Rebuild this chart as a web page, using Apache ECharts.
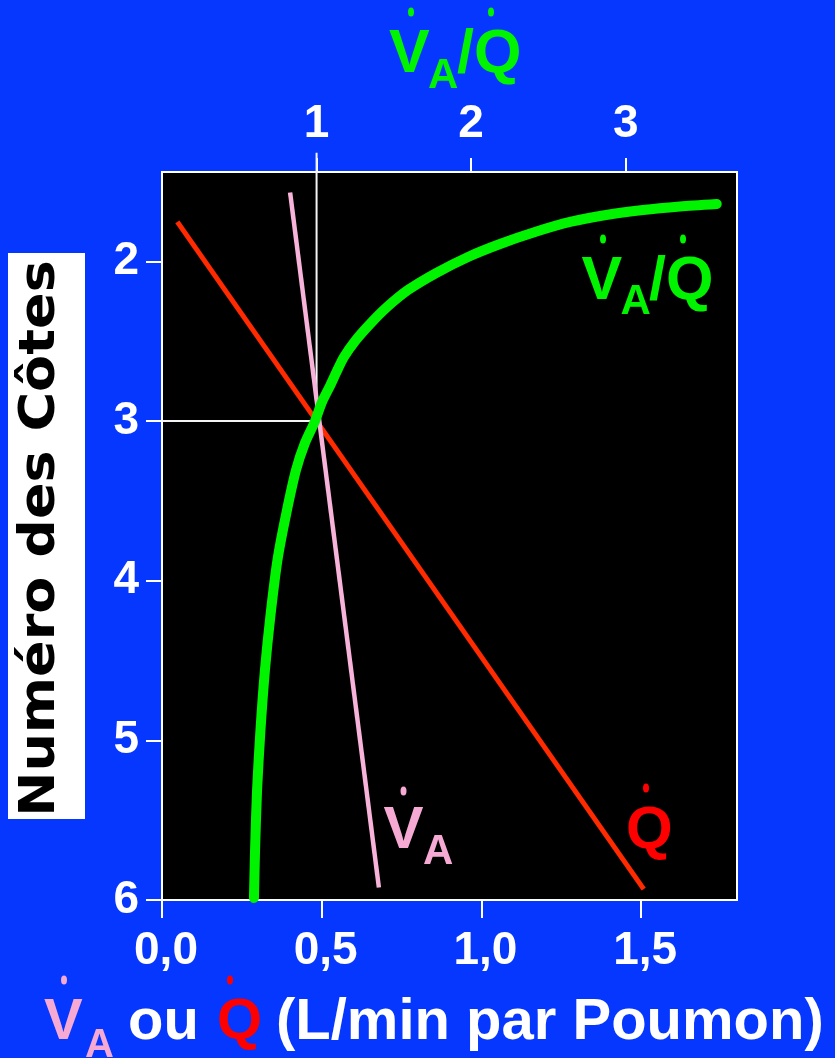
<!DOCTYPE html>
<html>
<head>
<meta charset="utf-8">
<script src="https://cdn.jsdelivr.net/npm/echarts@6/dist/echarts.min.js"></script>
<style>
  html, body { margin: 0; padding: 0; background: #0537ff; }
  #chart { width: 835px; height: 1058px; }
</style>
</head>
<body>
<div id="chart"></div>
<script>
// Flow (L/min per lung) against rib number, plus the ventilation/perfusion ratio.
const ribTicks = [2, 3, 4, 5, 6];
const flowTicks = [0, 0.5, 1, 1.5];
const ratioTicks = [1, 2, 3];

// Perfusion Q (straight line), ventilation VA (straight line): [flow, rib]
const perfusion = [[0.048, 1.752], [1.508, 5.932]];
const ventilation = [[0.401, 1.568], [0.679, 5.922]];

// VA/Q ratio curve: [ratio, rib]
const ratioCurve = [
  [0.595, 5.987], [0.602, 5.687], [0.615, 5.311], [0.637, 4.935], [0.666, 4.559],
  [0.702, 4.215], [0.747, 3.870], [0.802, 3.588], [0.867, 3.307], [0.925, 3.137],
  [0.990, 3.000], [1.035, 2.881], [1.087, 2.780], [1.132, 2.686], [1.177, 2.599],
  [1.249, 2.499], [1.346, 2.392], [1.456, 2.286], [1.592, 2.179], [1.773, 2.073],
  [1.980, 1.972], [2.187, 1.891], [2.413, 1.816], [2.640, 1.753], [2.873, 1.709],
  [3.112, 1.678], [3.351, 1.656], [3.589, 1.640]
];

// Guide lines marking a ratio of 1 at rib 3
const unityGuide = [[0, 3], [1, 3], [1, 1.32]];

const FONT = '"Liberation Sans", Arial, Helvetica, sans-serif';
const GREEN = '#00f400';
const PINK = '#f5a9d3';
const RED = '#ff0000';
const WHITE = '#ffffff';

// text placed by its left edge and baseline
function word(text, x, baseline, size, color) {
  return {
    type: 'text',
    x: x,
    y: baseline - 0.3465 * size,
    style: {
      text: text,
      fill: color,
      font: 'bold ' + size + 'px ' + FONT,
      align: 'left', verticalAlign: 'middle',
      textAlign: 'left', textVerticalAlign: 'middle'
    }
  };
}
// the small "rate" dot above V and Q
function dot(x, y, color) {
  return {
    type: 'circle',
    x: x, y: y,
    scaleY: 1.5,
    shape: { cx: 0, cy: 0, r: 3 },
    style: { fill: color }
  };
}

const graphics = [
  // title over the top axis
  word('V', 389, 76, 61, GREEN), word('A', 428, 91, 42, GREEN), word('/Q', 457, 76, 61, GREEN),
  dot(411, 12, GREEN), dot(491, 12, GREEN),
  // curve label
  word('V', 581.5, 303, 61, GREEN), word('A', 620.5, 317, 42, GREEN), word('/Q', 649, 303, 61, GREEN),
  dot(603, 239, GREEN), dot(683, 239, GREEN),
  // ventilation label
  word('V', 383.5, 852, 60, PINK), word('A', 423, 867, 42, PINK),
  dot(403.5, 791, PINK),
  // perfusion label
  word('Q', 626, 852, 60, RED),
  dot(646, 788, RED),
  // bottom axis name
  word('V', 44, 1043, 58, PINK), word('A', 85, 1060, 40, PINK), dot(64, 980, PINK),
  word('ou', 128, 1043, 58, WHITE),
  word('Q', 217, 1043, 58, RED), dot(230, 980, RED),
  word('(L/min par Poumon)', 276, 1043, 58, WHITE),
  // left axis name on a white box
  { type: 'rect', shape: { x: 8, y: 253, width: 77, height: 566 }, style: { fill: '#ffffff' } },
  {
    type: 'text', x: 41, y: 538.5, rotation: Math.PI / 2, scaleX: 1.08,
    style: {
      text: 'Numéro des Côtes', fill: '#000000',
      font: 'bold 50px "DejaVu Sans", sans-serif',
      align: 'center', verticalAlign: 'middle',
      textAlign: 'center', textVerticalAlign: 'middle'
    }
  }
];

const tickFont = { color: WHITE, fontSize: 46, fontWeight: 'bold', fontFamily: FONT };

const chart = echarts.init(document.getElementById('chart'), null, { renderer: 'canvas' });
chart.setOption({
  animation: false,
  backgroundColor: '#0537ff',
  grid: {
    left: 162, right: 98, top: 172, bottom: 158,
    show: true, backgroundColor: '#000000', borderColor: WHITE, borderWidth: 2
  },
  xAxis: [
    {
      type: 'value', position: 'bottom', min: 0, max: 1.8,
      axisLine: { show: false }, splitLine: { show: false },
      axisTick: { show: true, length: 18, lineStyle: { color: WHITE, width: 2 }, customValues: flowTicks },
      axisLabel: Object.assign({
        customValues: flowTicks, margin: 51, verticalAlign: 'middle', padding: [0, 0, 0, 8],
        formatter: v => v.toFixed(1).replace('.', ',')
      }, tickFont)
    },
    {
      type: 'value', position: 'top', min: 0, max: 3.72,
      axisLine: { show: false }, splitLine: { show: false },
      axisTick: { show: true, length: 14, lineStyle: { color: WHITE, width: 2 }, customValues: ratioTicks },
      axisLabel: Object.assign({ customValues: ratioTicks, margin: 48, verticalAlign: 'middle' }, tickFont)
    }
  ],
  yAxis: {
    type: 'value', inverse: true, min: 1.44, max: 6,
    axisLine: { show: false }, splitLine: { show: false },
    axisTick: { show: true, length: 16, lineStyle: { color: WHITE, width: 2 }, customValues: ribTicks },
    axisLabel: Object.assign({ customValues: ribTicks, margin: 23 }, tickFont)
  },
  series: [
    {
      name: 'guide', type: 'line', xAxisIndex: 1, data: unityGuide, clip: false,
      symbol: 'none', lineStyle: { color: '#f4f4f4', width: 2 }, z: 2
    },
    {
      name: 'Q', type: 'line', xAxisIndex: 0, data: perfusion,
      symbol: 'none', lineStyle: { color: '#ff2a00', width: 5 }, z: 3
    },
    {
      name: 'VA', type: 'line', xAxisIndex: 0, data: ventilation,
      symbol: 'none', lineStyle: { color: '#f7b3d9', width: 4.5 }, z: 4
    },
    {
      name: 'VA/Q', type: 'line', xAxisIndex: 1, data: ratioCurve, clip: false,
      symbol: 'none', smooth: 0.25,
      lineStyle: { color: GREEN, width: 10, cap: 'round', join: 'round' }, z: 5
    }
  ],
  graphic: graphics
});
</script>
</body>
</html>
